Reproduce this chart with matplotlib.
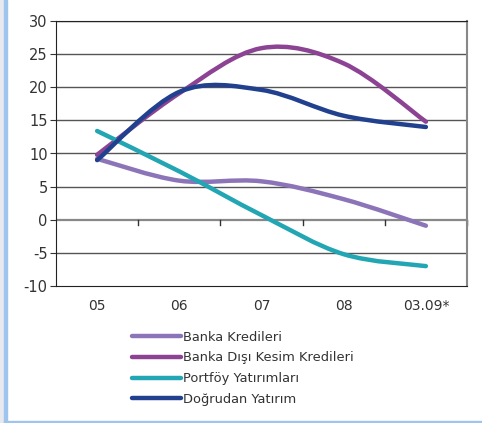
import numpy as np
import matplotlib.pyplot as plt
from matplotlib.path import Path
from matplotlib.patches import PathPatch, Rectangle
from matplotlib.lines import Line2D

FONT = ['DejaVu Sans']
plt.rcParams['font.family'] = FONT
plt.rcParams['axes.unicode_minus'] = False

years = ['05', '06', '07', '08', '03.09*']
banka = [9.2, 5.9, 5.8, 3.1, -0.9]
banka_disi = [9.8, 19.1, 25.9, 23.6, 14.8]
portfoy = [13.4, 7.3, 0.7, -5.2, -7.0]
dogrudan = [9.0, 19.3, 19.6, 15.7, 14.0]

names = ['Banka Kredileri', 'Banka Dışı Kesim Kredileri',
         'Portföy Yatırımları', 'Doğrudan Yatırım']
colors = ['#8c74b8', '#8c4393', '#22a6b3', '#21418f']
series = [banka, banka_disi, portfoy, dogrudan]


def smooth_path(xs, ys):
    # cardinal spline through the points, as cubic bezier segments
    pts = np.column_stack([xs, ys]).astype(float)
    n = len(pts)
    verts = [pts[0]]
    codes = [Path.MOVETO]
    for i in range(n - 1):
        p0 = pts[max(i - 1, 0)]
        p1 = pts[i]
        p2 = pts[i + 1]
        p3 = pts[min(i + 2, n - 1)]
        c1 = p1 + (p2 - p0) / 6
        c2 = p2 - (p3 - p1) / 6
        verts += [c1, c2, p2]
        codes += [Path.CURVE4] * 3
    return Path(verts, codes)


fig = plt.figure(figsize=(4.82, 4.23), dpi=100)
ax = fig.add_axes([56 / 482, 1 - 286 / 423, 411 / 482, 265 / 423])

x = np.arange(len(years))
for vals, c in zip(series, colors):
    ax.add_patch(PathPatch(smooth_path(x, vals), facecolor='none',
                           edgecolor=c, lw=3.2, capstyle='round', zorder=3))

ax.set_xlim(-0.5, len(years) - 0.5)
ax.set_ylim(-10, 30)
ax.set_yticks(range(-10, 31, 5))
ax.tick_params(axis='y', labelsize=10.5, length=4, color='#333333',
               labelcolor='#333333', pad=2)
for v in range(-5, 31, 5):
    if v == 0:
        continue
    ax.axhline(v, color='#333333' if v == 30 else '#555555', lw=1, zorder=1)
ax.axhline(0, color='#888888', lw=1.6, zorder=1)

# category labels and ticks along the zero line
ax.set_xticks([])
for i, lab in enumerate(years):
    ax.text(i, -13.0, lab, ha='center', va='center', fontsize=10,
            color='#333333')
for i in range(len(years)):
    ax.plot([i + 0.5, i + 0.5], [0, -0.8], color='#333333', lw=1, zorder=1,
            clip_on=False)

for s in ['left', 'bottom', 'top']:
    ax.spines[s].set_color('#222222')
ax.spines['right'].set_color('#888888')
ax.spines['right'].set_linewidth(1.5)

handles = [Line2D([], [], color=c, lw=3.2, solid_capstyle='round')
           for c in colors]
fig.legend(handles, names, loc='upper left',
           bbox_to_anchor=(125 / 482, 1 - 324 / 423), frameon=False,
           fontsize=9.4, handlelength=3.8, handletextpad=0.15,
           labelspacing=0.6, borderpad=0, labelcolor='#333333')

# page border on the left and bottom
fig.patches.append(Rectangle((0, 0), 4 / 482, 1, transform=fig.transFigure,
                             color='#e8e8ef', zorder=0))
fig.patches.append(Rectangle((4 / 482, 0), 3 / 482, 1,
                             transform=fig.transFigure, color='#9fc4ee',
                             zorder=0))
fig.patches.append(Rectangle((4 / 482, 0), 1, 2 / 423,
                             transform=fig.transFigure, color='#9fc4ee',
                             zorder=0))

fig.savefig('out.png', dpi=100)
